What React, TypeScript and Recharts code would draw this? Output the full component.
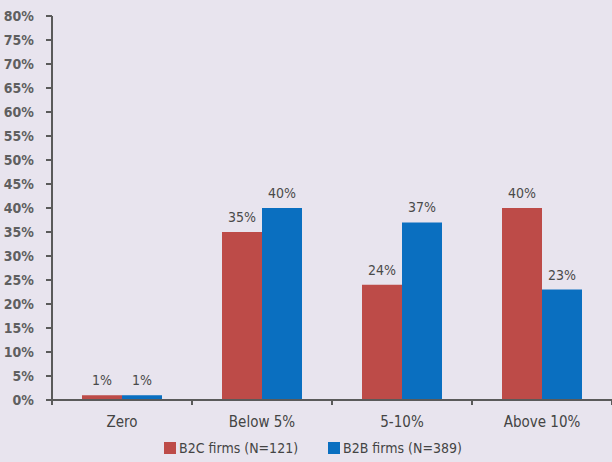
import React from 'react'
import { BarChart, Bar, XAxis, YAxis, LabelList, Legend } from 'recharts'

const categories = ['Zero', 'Below 5%', '5-10%', 'Above 10%']
const b2cValues = [1, 35, 24, 40]
const b2bValues = [1, 40, 37, 23]
const yTicks = [0, 5, 10, 15, 20, 25, 30, 35, 40, 45, 50, 55, 60, 65, 70, 75, 80]

const seriesInfo = [
    { key: 'b2c', name: 'B2C firms (N=121)', color: '#bd4b48' },
    { key: 'b2b', name: 'B2B firms (N=389)', color: '#0a6fc0' },
]

const data = categories.map((cat, i) => ({ cat, b2c: b2cValues[i], b2b: b2bValues[i] }))

const FONT = '"DejaVu Sans Condensed", "Liberation Sans Narrow", Arial, sans-serif'
const AXIS = '#5a5a5a'

// label in the middle of the band, tick mark on the band's edges
const CatTick = ({ x, y, payload }: any) => {
    const half = payload && payload.offset ? payload.offset : 70
    return (
        <g>
            <line x1={x - half} x2={x - half} y1={y - 8} y2={y - 3} stroke={AXIS} strokeWidth={2} />
            <line x1={x + half} x2={x + half} y1={y - 8} y2={y - 3} stroke={AXIS} strokeWidth={2} />
            <text x={x} y={y + 19} textAnchor="middle" fill="#444" fontSize={15} fontFamily={FONT}>
                {payload.value}
            </text>
        </g>
    )
}

const LegendContent = () => (
    <div style={{ display: 'flex', justifyContent: 'center', gap: 30, fontFamily: FONT, fontSize: 14, color: '#444', paddingLeft: 14 }}>
        {seriesInfo.map((s) => (
            <div key={s.key} style={{ display: 'flex', alignItems: 'center' }}>
                <span style={{ width: 12, height: 12, background: s.color, display: 'inline-block', marginRight: 3 }} />
                {s.name}
            </div>
        ))}
    </div>
)

export default function App() {
    return (
        <div style={{ position: 'fixed', left: 0, top: 0, width: 612, height: 462, background: '#e8e4ee' }}>
            <BarChart width={612} height={462} data={data} margin={{ top: 16, right: 0, left: 0, bottom: 6 }} barGap={0}>
                <XAxis
                    dataKey="cat"
                    stroke={AXIS}
                    strokeWidth={2}
                    tickLine={false}
                    tick={<CatTick />}
                    height={40}
                    interval={0}
                />
                <YAxis
                    domain={[0, 80]}
                    ticks={yTicks}
                    interval={0}
                    width={52}
                    stroke={AXIS}
                    strokeWidth={2}
                    tickSize={6}
                    tickMargin={12}
                    tickFormatter={(v: number) => `${v}%`}
                    tick={{ fill: '#5f5f5f', fontSize: 14, fontWeight: 'bold', fontFamily: FONT }}
                />
                <Legend verticalAlign="bottom" content={<LegendContent />} />
                {seriesInfo.map((s) => (
                    <Bar key={s.key} dataKey={s.key} name={s.name} fill={s.color} barSize={40} isAnimationActive={false}>
                        <LabelList
                            dataKey={s.key}
                            position="top"
                            offset={10}
                            formatter={(v: any) => `${v}%`}
                            style={{ fill: '#4a4a4a', fontSize: 14, fontFamily: FONT }}
                        />
                    </Bar>
                ))}
            </BarChart>
        </div>
    )
}
